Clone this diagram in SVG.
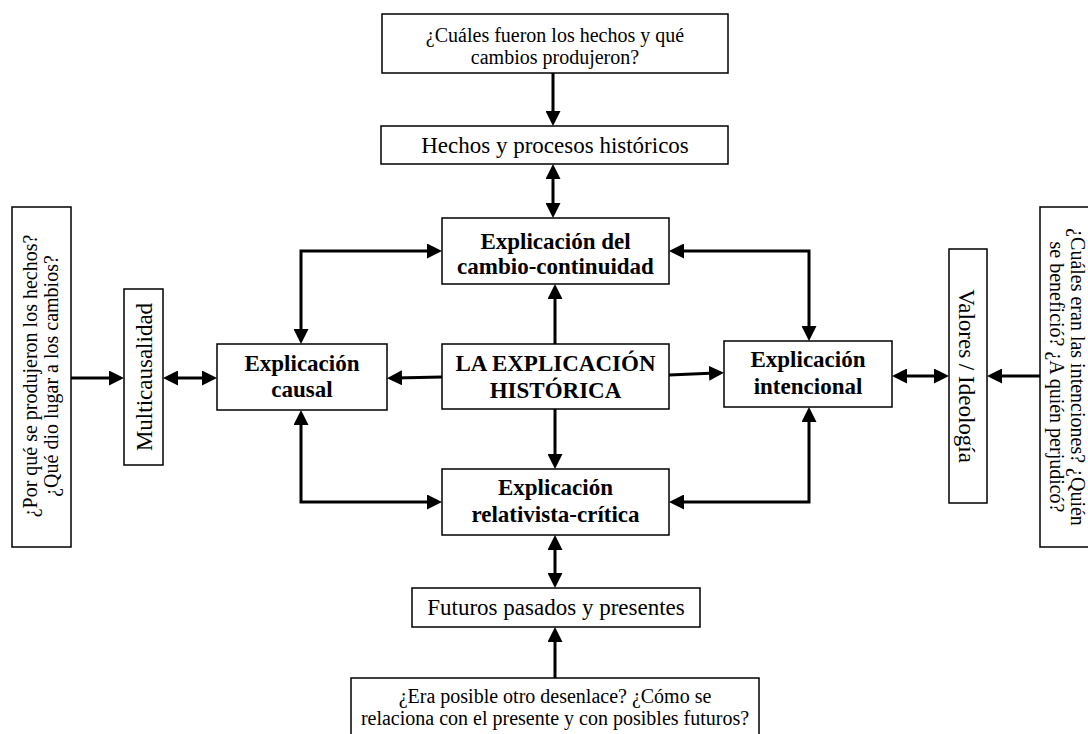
<svg xmlns="http://www.w3.org/2000/svg" width="1088" height="734" viewBox="0 0 1088 734">
<style>
  .box { fill: #ffffff; stroke: #000000; stroke-width: 1.5; }
  .q { font-family: "Liberation Serif", "Times New Roman", serif; font-size: 20px; fill: #000; text-anchor: middle; }
  .lbl { font-family: "Liberation Serif", "Times New Roman", serif; font-size: 23px; fill: #000; text-anchor: middle; }
  .b { font-family: "Liberation Serif", "Times New Roman", serif; font-size: 23px; font-weight: bold; fill: #000; text-anchor: middle; }
  .c { fill: none; stroke: #000000; stroke-width: 3; stroke-linejoin: miter; }
</style>
<defs>
  <marker id="ah" viewBox="0 0 15 15" refX="7" refY="7.5" markerWidth="15" markerHeight="15" markerUnits="userSpaceOnUse" orient="auto-start-reverse">
    <path d="M0,0 L15,7.5 L0,15 z" fill="#000"/>
  </marker>
</defs>
<rect width="1088" height="734" fill="#ffffff"/>

<g id="connectors">
  <path class="c" d="M553,73 V118" marker-end="url(#ah)"/>
  <path class="c" d="M553,172 V210" marker-start="url(#ah)" marker-end="url(#ah)"/>
  <path class="c" d="M555,344 V292" marker-end="url(#ah)"/>
  <path class="c" d="M555,409 V461" marker-end="url(#ah)"/>
  <path class="c" d="M555,543 V580" marker-start="url(#ah)" marker-end="url(#ah)"/>
  <path class="c" d="M555,678 V635" marker-end="url(#ah)"/>
  <path class="c" d="M442,377 L395,378" marker-end="url(#ah)"/>
  <path class="c" d="M669,375 L716,373" marker-end="url(#ah)"/>
  <path class="c" d="M301,336 V251 H434" marker-start="url(#ah)" marker-end="url(#ah)"/>
  <path class="c" d="M809,333 V251 H677" marker-start="url(#ah)" marker-end="url(#ah)"/>
  <path class="c" d="M301,418 V502 H434" marker-start="url(#ah)" marker-end="url(#ah)"/>
  <path class="c" d="M809,415 V502 H677" marker-start="url(#ah)" marker-end="url(#ah)"/>
  <path class="c" d="M71,378 H116" marker-end="url(#ah)"/>
  <path class="c" d="M171,378 H209" marker-start="url(#ah)" marker-end="url(#ah)"/>
  <path class="c" d="M900,376 H941" marker-start="url(#ah)" marker-end="url(#ah)"/>
  <path class="c" d="M1040,376 H995" marker-end="url(#ah)"/>
</g>

<g id="q-top">
  <rect class="box" x="382" y="14" width="346" height="59"/>
  <text class="q" x="555" y="42">¿Cuáles fueron los hechos y qué</text>
  <text class="q" x="555" y="64">cambios produjeron?</text>
</g>

<g id="hechos">
  <rect class="box" x="381" y="126" width="347" height="38"/>
  <text class="lbl" x="555" y="153">Hechos y procesos históricos</text>
</g>

<g id="cambio">
  <rect class="box" x="442" y="218" width="227" height="66"/>
  <text class="b" x="555.5" y="249">Explicación del</text>
  <text class="b" x="555.5" y="274">cambio-continuidad</text>
</g>

<g id="central">
  <rect class="box" x="442" y="344" width="227" height="65"/>
  <text class="b" x="555.5" y="371">LA EXPLICACIÓN</text>
  <text class="b" x="555.5" y="398">HISTÓRICA</text>
</g>

<g id="causal">
  <rect class="box" x="217" y="344" width="170" height="66"/>
  <text class="b" x="302" y="371">Explicación</text>
  <text class="b" x="302" y="397">causal</text>
</g>

<g id="intencional">
  <rect class="box" x="724" y="341" width="168" height="66"/>
  <text class="b" x="808" y="367">Explicación</text>
  <text class="b" x="808" y="394">intencional</text>
</g>

<g id="relativista">
  <rect class="box" x="442" y="469" width="227" height="66"/>
  <text class="b" x="555.5" y="495">Explicación</text>
  <text class="b" x="555.5" y="522">relativista-crítica</text>
</g>

<g id="futuros">
  <rect class="box" x="412" y="588" width="288" height="39"/>
  <text class="lbl" x="556" y="615">Futuros pasados y presentes</text>
</g>

<g id="q-bottom">
  <rect class="box" x="351" y="678" width="408" height="70"/>
  <text class="q" x="555" y="703">¿Era posible otro desenlace? ¿Cómo se</text>
  <text class="q" x="555" y="725">relaciona con el presente y con posibles futuros?</text>
</g>

<g id="q-left">
  <rect class="box" x="12" y="207" width="59" height="340"/>
  <text class="q" transform="translate(37,376) rotate(-90)">¿Por qué se produjeron los hechos?</text>
  <text class="q" transform="translate(58,376) rotate(-90)">¿Qué dio lugar a los cambios?</text>
</g>

<g id="multicausalidad">
  <rect class="box" x="124" y="289" width="39" height="176"/>
  <text class="lbl" transform="translate(152,377) rotate(-90)">Multicausalidad</text>
</g>

<g id="valores">
  <rect class="box" x="949" y="249" width="38" height="254"/>
  <text class="lbl" transform="translate(959,376) rotate(90)">Valores / Ideología</text>
</g>

<g id="q-right">
  <rect class="box" x="1040" y="207" width="70" height="340"/>
  <text class="q" transform="translate(1071,377) rotate(90)">¿Cuáles eran las intenciones? ¿Quién</text>
  <text class="q" transform="translate(1050,377) rotate(90)">se benefició? ¿A quién perjudicó?</text>
</g>
</svg>
